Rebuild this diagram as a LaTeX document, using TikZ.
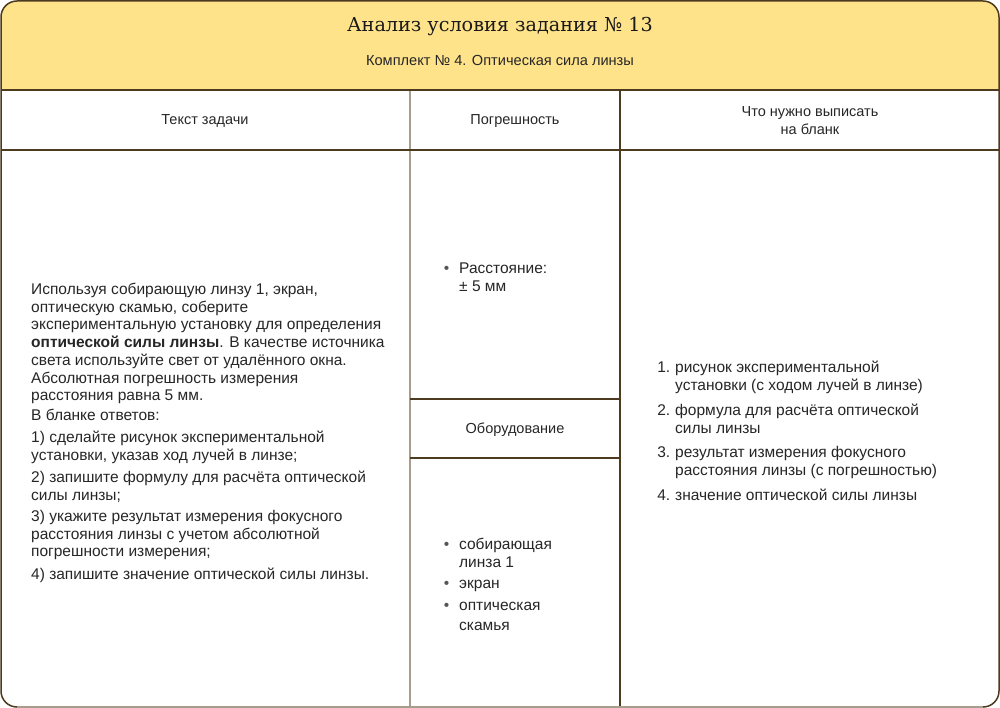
\documentclass[tikz,border=0pt]{standalone}
\usepackage{fontspec}
\setmainfont{Liberation Sans}
\newfontfamily\titlefont{DejaVu Serif}
\definecolor{head}{HTML}{FFE38A}
\definecolor{brd}{HTML}{4D3B1F}
\definecolor{lite}{HTML}{A89C8C}
\definecolor{txt}{HTML}{262626}
\definecolor{bul}{HTML}{555555}
\newcommand{\bulitem}{\llap{\textcolor{bul}{•}\hspace{10pt}}}
\newcommand{\numitem}[1]{\llap{#1\hspace{5pt}}}
\tikzset{
  body/.style={font=\fontsize{15.5}{17.7}\selectfont, text=txt, align=left, inner sep=0pt, anchor=north west},
  hdr/.style={font=\fontsize{14.5}{18}\selectfont, text=txt, align=center, inner sep=0pt, anchor=base},
  rule/.style={draw=brd, line width=1.5pt},
  literule/.style={draw=lite, line width=2pt},
  thickrule/.style={draw=brd, line width=2.6pt},
}
\begin{document}
\begin{tikzpicture}[x=1pt,y=-1pt]
\useasboundingbox (0,0) rectangle (1000,708);
% header fill
\fill[head] (1,90) [rounded corners=16pt] -- (1,1) -- (999,1) [sharp corners] -- (999,90) -- cycle;
% column rules
\draw[literule] (410,90) -- (410,707);
\draw[thickrule] (620,90) -- (620,707);
\draw[rule] (410,399) -- (620,399);
\draw[rule] (410,458) -- (620,458);
\draw[rule] (1,90) -- (999,90);
\draw[rule] (1,150) -- (999,150);
% outer frame
\draw[rule, rounded corners=16pt] (1,1) rectangle (999,707);
\draw[draw=lite, line width=1.5pt] (17,707) -- (983,707);
% title
\node[anchor=base, inner sep=0pt, text=black!90, font=\titlefont\fontsize{19.2}{22}\selectfont] (title) at (500,32) {Анализ условия задания №~13};
\node[anchor=base, inner sep=0pt, text=txt, font=\fontsize{14.6}{16}\selectfont] (sub) at (500,66) {Комплект №~4. Оптическая сила линзы};
% column headers
\node[hdr] (h1) at (205,125) {Текст задачи};
\node[hdr] (h2) at (515,125) {Погрешность};
\node[hdr] (h3) at (810,135) {Что нужно выписать\\на бланк};
\node[hdr] (h4) at (515,433) {Оборудование};
% left text
\node[body] (p1) at (31,283) {Используя собирающую линзу 1, экран,\\оптическую скамью, соберите\\экспериментальную установку для определения\\\textbf{оптической силы линзы}. В качестве источника\\света используйте свет от удалённого окна.\\Абсолютная погрешность измерения\\расстояния равна 5 мм.};
\node[body] (p2) at (31,409) {В бланке ответов:};
\node[body] (p3) at (31,431) {1) сделайте рисунок экспериментальной\\установки, указав ход лучей в линзе;};
\node[body] (p4) at (31,471) {2) запишите формулу для расчёта оптической\\силы линзы;};
\node[body] (p5) at (31,510) {3) укажите результат измерения фокусного\\расстояния линзы с учетом абсолютной\\погрешности измерения;};
\node[body] (p6) at (31,568) {4) запишите значение оптической силы линзы.};
% middle top
\node[body] (m1) at (459,263) {\bulitem Расстояние:\\± 5 мм};
% middle bottom
\node[body] (e1) at (459,538) {\bulitem собирающая\\линза 1};
\node[body] (e2) at (459,580) {\bulitem экран};
\node[body] (e3) at (459,602) {\bulitem оптическая\\\rule{0pt}{19pt}скамья};
% right list
\node[body] (r1) at (675,361) {\numitem{1.}рисунок экспериментальной\\установки (с ходом лучей в линзе)};
\node[body] (r2) at (675,404) {\numitem{2.}формула для расчёта оптической\\силы линзы};
\node[body] (r3) at (675,446) {\numitem{3.}результат измерения фокусного\\расстояния линзы (с погрешностью)};
\node[body] (r4) at (675,489) {\numitem{4.}значение оптической силы линзы};
\end{tikzpicture}
\end{document}
